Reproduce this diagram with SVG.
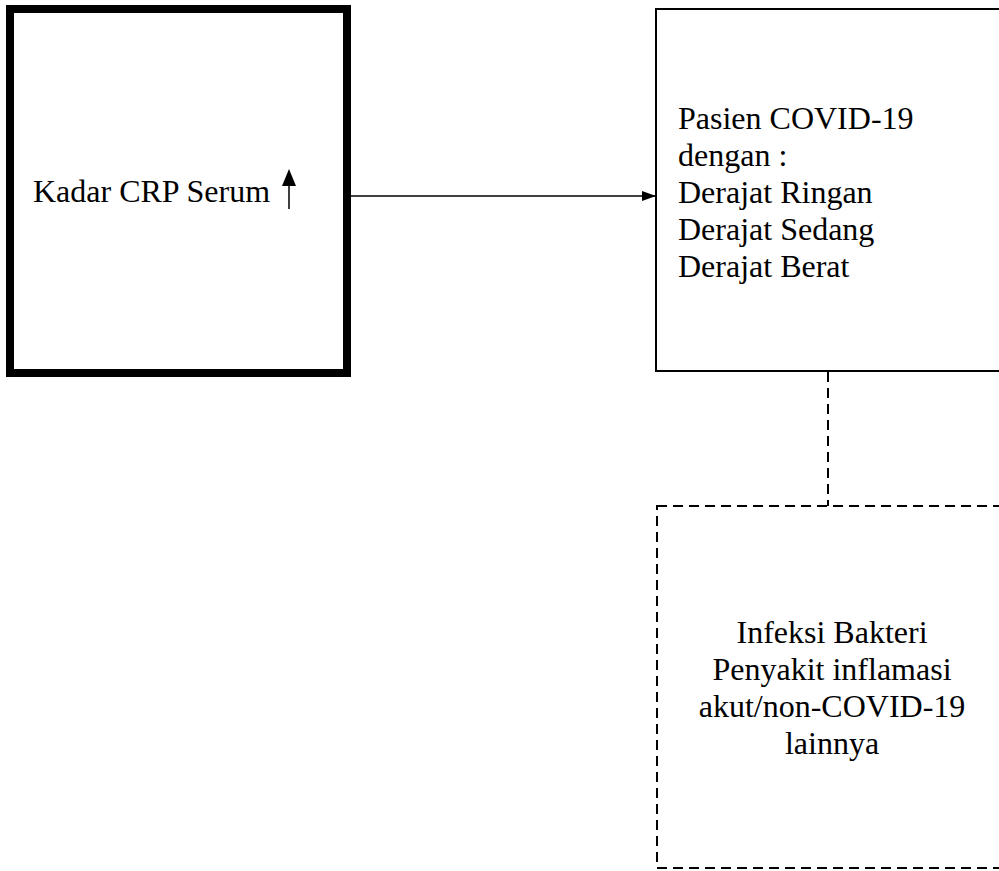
<svg xmlns="http://www.w3.org/2000/svg" width="999" height="871" viewBox="0 0 999 871">
<style>
text{font-family:"Liberation Serif","Times New Roman",serif;font-size:32px;fill:#000}
.box{fill:#fff;stroke:#000}
.dash{stroke-dasharray:10 6}
</style>
<defs>
<marker id="ah" markerWidth="14" markerHeight="10" refX="14" refY="5" orient="auto" markerUnits="userSpaceOnUse">
<path d="M0,0 L14,5 L0,10 Z" fill="#000"/>
</marker>
</defs>
<rect width="999" height="871" fill="#fff"/>
<g id="connectors">
<line x1="351" y1="196" x2="656" y2="196" stroke="#000" stroke-width="1.5" marker-end="url(#ah)"/>
<line x1="828" y1="372" x2="828" y2="506" stroke="#000" stroke-width="2" class="dash"/>
</g>
<g id="node-crp">
<rect class="box" x="10" y="9" width="337" height="364" stroke-width="8"/>
<text x="33" y="202">Kadar CRP Serum</text>
<line x1="289" y1="209" x2="289" y2="184" stroke="#000" stroke-width="1.5"/>
<polygon points="282,186 296,186 289,169" fill="#000"/>
</g>
<g id="node-covid">
<rect class="box" x="656" y="9" width="360" height="362" stroke-width="2"/>
<text x="678" y="129">Pasien COVID-19</text>
<text x="678" y="166">dengan :</text>
<text x="678" y="203">Derajat Ringan</text>
<text x="678" y="240">Derajat Sedang</text>
<text x="678" y="277">Derajat Berat</text>
</g>
<g id="node-other">
<rect class="box dash" x="657" y="506" width="360" height="362" stroke-width="2"/>
<text x="832" y="643" text-anchor="middle">Infeksi Bakteri</text>
<text x="832" y="680" text-anchor="middle">Penyakit inflamasi</text>
<text x="832" y="717" text-anchor="middle">akut/non-COVID-19</text>
<text x="832" y="754" text-anchor="middle">lainnya</text>
</g>
</svg>
